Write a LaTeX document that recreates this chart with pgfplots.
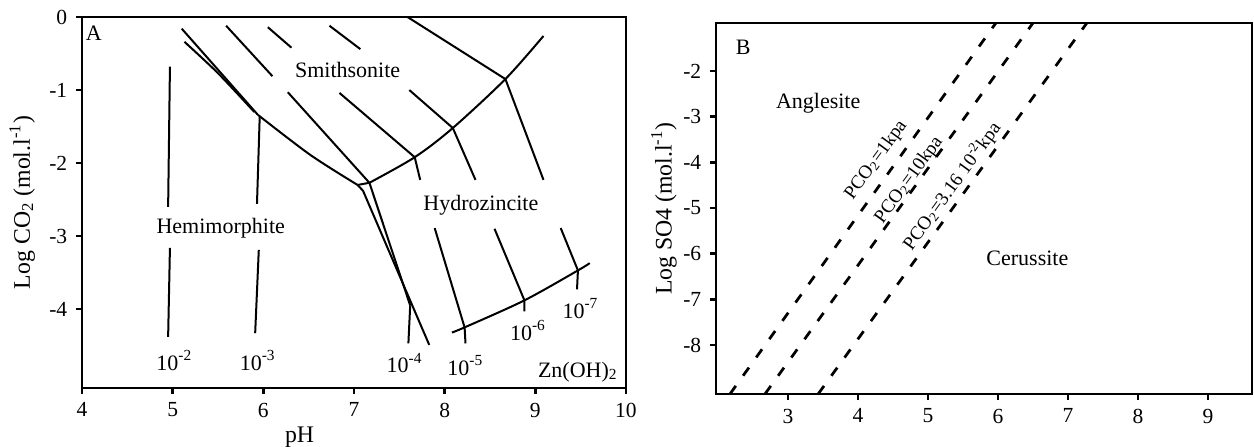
\documentclass[border=0pt]{standalone}
\usepackage{fontspec}
\setmainfont{Liberation Serif}
\usepackage{pgfplots}
\pgfplotsset{compat=1.18}

\newcommand{\lab}{\fontsize{8.8}{10}\selectfont}
\newcommand{\sml}{\fontsize{7.6}{9}\selectfont}

\pgfplotsset{
  diag/.style={
    scale only axis,
    axis line style={line width=1.1pt},
    tick style={line width=1pt, black},
    tick align=outside,
    major tick length=2.4pt,
    xtick pos=left, ytick pos=left,
    tick label style={font=\fontsize{8.6}{10}\selectfont},
    label style={font=\fontsize{9.5}{11}\selectfont},
    /pgf/number format/assume math mode=true,
  },
  bd/.style={black, line width=0.8pt, mark=none},
  dl/.style={black, line width=1.1pt, mark=none, dash pattern=on 4pt off 5pt},
}

\begin{document}
\begin{tikzpicture}
\useasboundingbox (0,0) rectangle (501.6pt,-178.8pt);

% ---- panel A
\begin{axis}[diag,
    at={(32.8pt,-155.2pt)}, anchor=south west,
    width=217.6pt, height=148.4pt,
    xmin=4, xmax=10, ymin=-5.08, ymax=0,
    xtick={4,5,...,10}, ytick={0,-1,-2,-3,-4},
    xlabel={pH},
    xlabel style={at={(axis description cs:0.40,-0.132)}, anchor=center},
    ylabel={Log CO\textsubscript{2} (mol.l\textsuperscript{-1})},
    ylabel style={at={(axis description cs:-0.110,0.5)}, anchor=center},
]
% Zn concentration lines 10^-2, 10^-3
\addplot[bd] coordinates {(4.97,-0.68) (4.95,-2.60)};
\addplot[bd] coordinates {(4.97,-3.16) (4.95,-4.38)};
\addplot[bd] coordinates {(5.96,-1.37) (5.93,-2.56)};
\addplot[bd] coordinates {(5.95,-3.19) (5.91,-4.33)};
% hemimorphite / smithsonite
\addplot[bd] coordinates {(5.10,-0.16) (5.94,-1.34)};
\addplot[bd, smooth] coordinates {(5.13,-0.34) (5.50,-0.77) (5.90,-1.30)};
\addplot[bd, smooth] coordinates {(5.94,-1.34) (6.52,-1.89) (7.04,-2.30)};
\addplot[bd] coordinates {(7.04,-2.30) (7.10,-2.38) (7.83,-4.49)};
\addplot[bd] coordinates {(7.04,-2.30) (7.17,-2.27)};
\addplot[bd] coordinates {(6.27,-1.03) (7.17,-2.27) (7.62,-3.95)};
\addplot[bd] coordinates {(7.62,-3.95) (7.60,-4.47)};
% smithsonite / hydrozincite
\addplot[bd, smooth] coordinates {(7.17,-2.27) (7.67,-1.92) (8.09,-1.52) (8.67,-0.85) (9.09,-0.26)};
\addplot[bd] coordinates {(6.84,-1.04) (7.67,-1.92) (7.73,-2.23)};
\addplot[bd] coordinates {(7.61,-1.00) (8.09,-1.52) (8.34,-2.23)};
\addplot[bd] coordinates {(7.59,0) (8.67,-0.85) (9.09,-2.23)};
\addplot[bd] coordinates {(5.59,-0.12) (6.10,-0.81)};
\addplot[bd] coordinates {(6.05,-0.14) (6.31,-0.42)};
\addplot[bd] coordinates {(6.73,-0.12) (7.07,-0.44)};
% hydrozincite / Zn(OH)2
\addplot[bd] coordinates {(7.89,-2.89) (8.22,-4.25) (8.23,-4.47)};
\addplot[bd] coordinates {(8.55,-2.90) (8.88,-3.88) (8.88,-4.03)};
\addplot[bd] coordinates {(9.28,-2.89) (9.47,-3.47) (9.46,-3.73)};
\addplot[bd, smooth] coordinates {(8.08,-4.32) (8.22,-4.25) (8.88,-3.88) (9.47,-3.47) (9.60,-3.37)};

\node[font=\lab] at (axis cs:4.13,-0.22) {A};
\node[font=\lab] at (axis cs:6.93,-0.73) {Smithsonite};
\node[font=\lab] at (axis cs:8.40,-2.58) {Hydrozincite};
\node[font=\lab] at (axis cs:5.53,-2.89) {Hemimorphite};
\node[font=\lab] at (axis cs:5.02,-4.70) {10\textsuperscript{-2}};
\node[font=\lab] at (axis cs:5.94,-4.70) {10\textsuperscript{-3}};
\node[font=\lab] at (axis cs:7.56,-4.74) {10\textsuperscript{-4}};
\node[font=\lab] at (axis cs:8.23,-4.77) {10\textsuperscript{-5}};
\node[font=\lab] at (axis cs:8.92,-4.29) {10\textsuperscript{-6}};
\node[font=\lab] at (axis cs:9.50,-3.99) {10\textsuperscript{-7}};
\node[font=\lab] at (axis cs:9.47,-4.86) {Zn(OH)\textsubscript{2}};
\end{axis}

% ---- panel B
\begin{axis}[diag,
    at={(286.4pt,-157.6pt)}, anchor=south west,
    width=214.4pt, height=148.4pt,
    xmin=1.97, xmax=9.63, ymin=-9.07, ymax=-0.95,
    xtick={3,4,...,9}, ytick={-8,-7,...,-2},
    ylabel={Log SO4 (mol.l\textsuperscript{-1})},
    ylabel style={at={(axis description cs:-0.097,0.5)}, anchor=center},
]
\addplot[dl] coordinates {(2.17,-9.07) (5.97,-0.95)};
\addplot[dl] coordinates {(2.67,-9.07) (6.50,-0.95)};
\addplot[dl] coordinates {(3.43,-9.07) (7.27,-0.95)};

\node[font=\lab] at (axis cs:2.36,-1.48) {B};
\node[font=\lab] at (axis cs:3.43,-2.70) {Anglesite};
\node[font=\lab] at (axis cs:6.42,-6.10) {Cerussite};
\node[font=\sml, rotate=54] at (axis cs:4.26,-3.95) {PCO\textsubscript{2}=1kpa};
\node[font=\sml, rotate=54] at (axis cs:4.73,-4.39) {PCO\textsubscript{2}=10kpa};
\node[font=\sml, rotate=54] at (axis cs:5.34,-4.52) {PCO\textsubscript{2}=3.16 10\textsuperscript{-2}kpa};
\end{axis}
\end{tikzpicture}
\end{document}
